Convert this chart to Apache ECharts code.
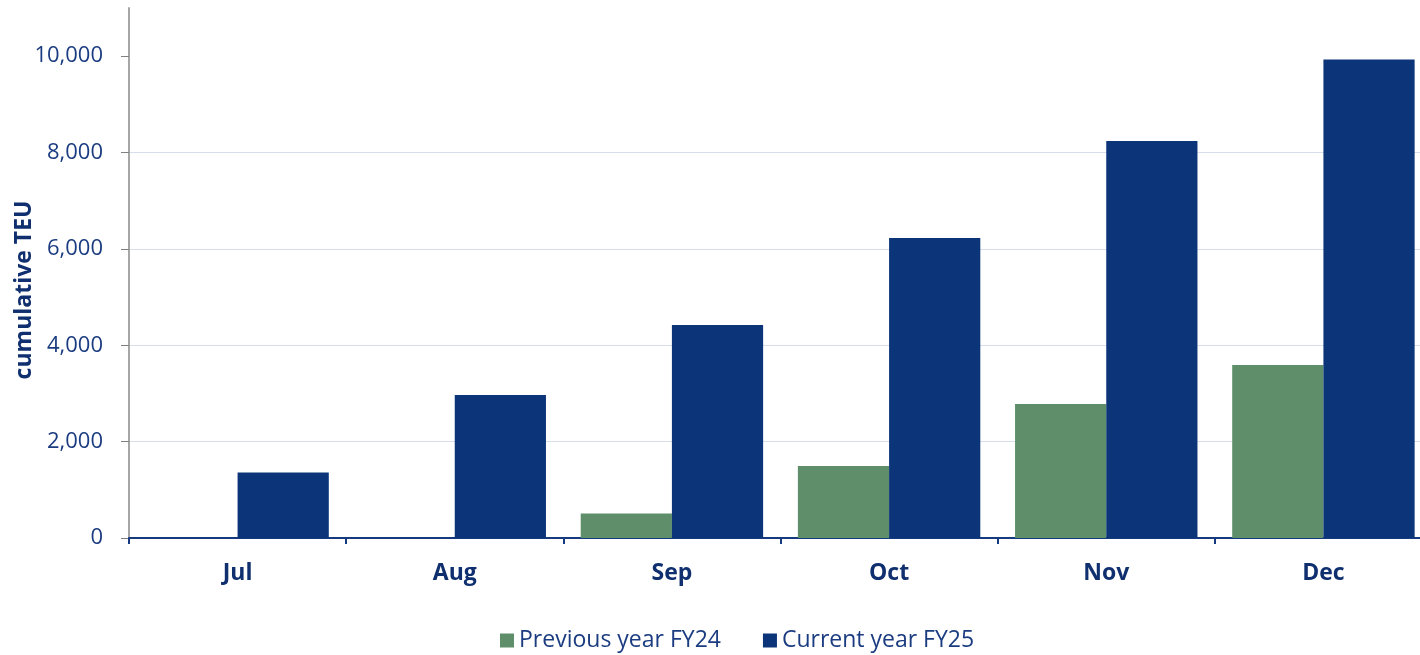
<!DOCTYPE html>
<html>
<head>
<meta charset="utf-8">
<script src="https://cdn.jsdelivr.net/npm/echarts@6/dist/echarts.min.js"></script>
<style>
  html, body { margin: 0; padding: 0; background: #fff; }
  #chart { width: 1420px; height: 655px; }
</style>
</head>
<body>
<div id="chart"></div>
<script>
// Cumulative TEU by month, previous vs current financial year
const months = ['Jul', 'Aug', 'Sep', 'Oct', 'Nov', 'Dec'];
const previousFY24 = [0, 0, 510, 1495, 2780, 3590];
const currentFY25 = [1360, 2970, 4420, 6225, 8240, 9930];
const yTicks = [0, 2000, 4000, 6000, 8000, 10000];

const navy = '#0b3479';
const green = '#5f8e6a';
const textColor = '#1b3c80';
const font = '"Open Sans", "Noto Sans", sans-serif';

const chart = echarts.init(document.getElementById('chart'), null, { renderer: 'canvas' });
chart.setOption({
  animation: false,
  textStyle: { fontFamily: font },
  grid: { left: 129, right: -12, top: 8, bottom: 117, containLabel: false, outerBoundsMode: 'none' },
  legend: {
    left: 495,
    bottom: -2,
    itemWidth: 14,
    itemHeight: 14,
    itemGap: 42,
    icon: 'rect',
    textStyle: { color: textColor, fontSize: 23, fontFamily: font },
    data: ['Previous year FY24', 'Current year FY25']
  },
  xAxis: {
    type: 'category',
    data: months,
    axisLine: { lineStyle: { color: '#163a80', width: 2 } },
    axisTick: { show: true, length: 6, alignWithLabel: false, lineStyle: { color: '#163a80', width: 2 } },
    axisLabel: { color: '#0f2f6e', fontSize: 23, fontWeight: 'bold', margin: 24, fontFamily: font }
  },
  yAxis: {
    type: 'value',
    min: 0,
    max: 11000,
    interval: 2000,
    name: 'cumulative TEU',
    nameLocation: 'middle',
    nameGap: 93,
    nameMoveOverlap: false,
    nameTextStyle: { color: '#0f2f6e', fontSize: 23, fontWeight: 'bold', fontFamily: font, padding: [0, 34, 0, 0] },
    axisLine: { show: true, lineStyle: { color: '#a6a6a6', width: 2 } },
    axisTick: { show: true, length: 8, customValues: yTicks, lineStyle: { color: '#808080', width: 1 } },
    axisLabel: {
      color: textColor, fontSize: 22, margin: 26, fontFamily: font,
      customValues: yTicks,
      formatter: v => v.toLocaleString('en-US')
    },
    splitLine: { show: true, showMaxLine: false, lineStyle: { color: '#d6ddeb', width: 1 } }
  },
  series: [
    {
      name: 'Previous year FY24',
      type: 'bar',
      data: previousFY24,
      itemStyle: { color: green },
      barGap: '0%',
      barCategoryGap: '16%'
    },
    {
      name: 'Current year FY25',
      type: 'bar',
      data: currentFY25,
      itemStyle: { color: navy },
      barGap: '0%',
      barCategoryGap: '16%'
    }
  ]
});
</script>
</body>
</html>
